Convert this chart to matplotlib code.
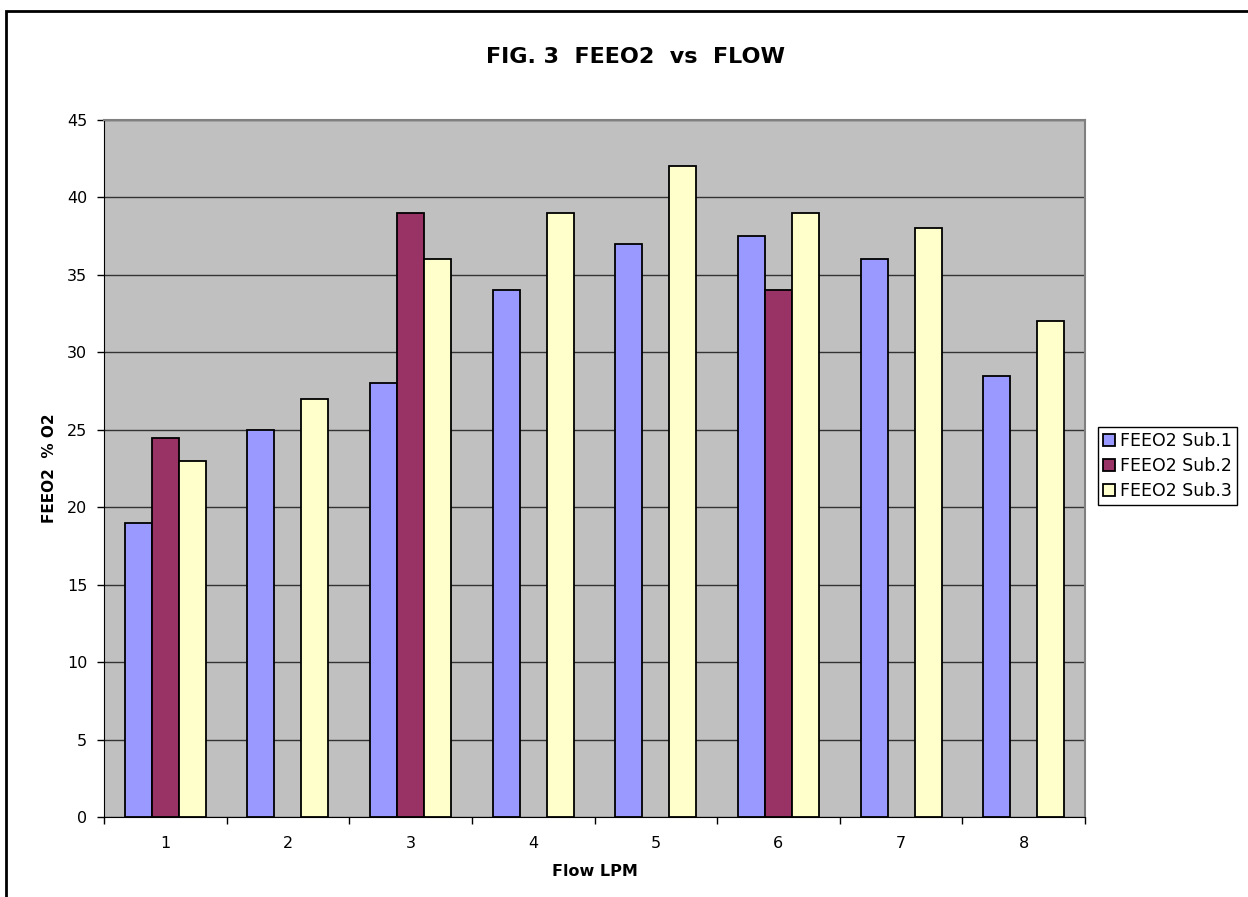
import matplotlib
matplotlib.use("Agg")
import matplotlib.pyplot as plt
import numpy as np
from matplotlib.patches import Rectangle

categories = ["1", "2", "3", "4", "5", "6", "7", "8"]
sub1 = [19, 25, 28, 34, 37, 37.5, 36, 28.5]
sub2 = [24.5, np.nan, 39, np.nan, np.nan, 34, np.nan, np.nan]
sub3 = [23, 27, 36, 39, 42, 39, 38, 32]
series_names = ["FEEO2 Sub.1", "FEEO2 Sub.2", "FEEO2 Sub.3"]
colors = ["#9999FF", "#993366", "#FFFFCC"]

plt.rcParams['font.family'] = ['DejaVu Sans']

fig = plt.figure(figsize=(12.48, 8.97), dpi=100)
ax = fig.add_axes([104/1248, 1-817/897, (1085-104)/1248, (817-120)/897])

x = np.arange(len(categories))
w = 0.22
for i, (vals, name, c) in enumerate(zip([sub1, sub2, sub3], series_names, colors)):
    ax.bar(x + (i-1)*w, vals, width=w, color=c, edgecolor='black', linewidth=1.3,
           label=name, zorder=3)

ax.set_facecolor('#C0C0C0')
ax.set_xlim(-0.5, len(categories)-0.5)
ax.set_ylim(0, 45)
ax.set_yticks(np.arange(0, 46, 5))
ax.yaxis.grid(True, color='#333333', linewidth=1.0, zorder=1)
ax.set_axisbelow(True)

ax.set_xticks(x)
ax.set_xticklabels(categories, fontsize=11.5)
ax.set_xticks(np.arange(-0.5, len(categories)), minor=True)
ax.tick_params(axis='x', which='major', length=0, pad=14)
ax.tick_params(axis='x', which='minor', length=5, width=1, color='black', direction='out')
ax.tick_params(axis='y', length=5, width=1, color='black', direction='out', pad=7, labelsize=11.5)

for s in ['top', 'right']:
    ax.spines[s].set_color('#808080')
    ax.spines[s].set_linewidth(1.5)
ax.spines['left'].set_color('black')
ax.spines['bottom'].set_color('black')

ax.set_xlabel('Flow LPM', fontsize=11.5, fontweight='bold', labelpad=9)
ax.set_ylabel('FEEO2  % O2', fontsize=11, fontweight='bold', labelpad=7)

fig.text(635/1248, 1-57/897, 'FIG. 3  FEEO2  vs  FLOW', ha='center', va='center',
         fontsize=16, fontweight='bold')

leg = ax.legend(loc='upper left', bbox_to_anchor=(1098/1248, 1-427/897),
                bbox_transform=fig.transFigure, fontsize=12.5, frameon=True,
                fancybox=False, edgecolor='black', framealpha=1,
                handlelength=0.7, handleheight=0.7, handletextpad=0.25,
                borderpad=0.3, labelspacing=0.4, borderaxespad=0)
leg.get_frame().set_linewidth(1.0)

fig.patches.append(Rectangle((6/1248, -0.2), 2, 1.2 - 11/897, transform=fig.transFigure,
                             fill=False, edgecolor='black', linewidth=2))

fig.savefig('out.png', dpi=100)
